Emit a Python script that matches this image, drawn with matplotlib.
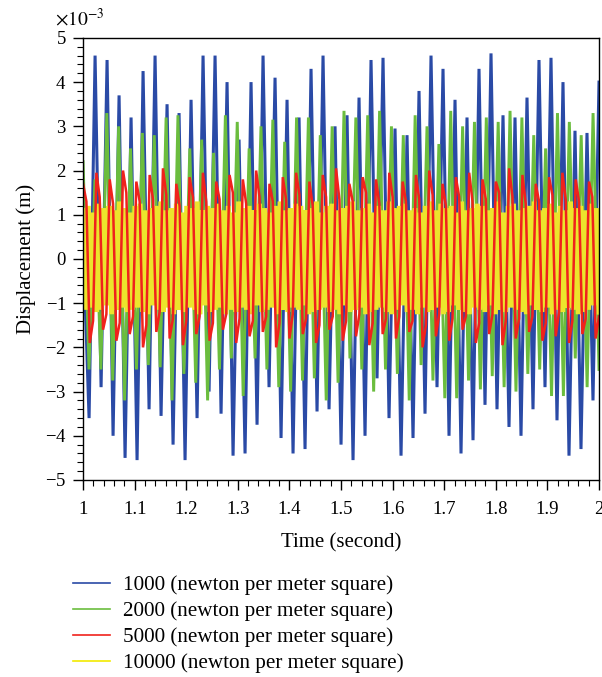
import numpy as np
import matplotlib
matplotlib.use("Agg")
import matplotlib.pyplot as plt
from matplotlib.ticker import MultipleLocator

plt.rcParams['font.family'] = 'serif'
plt.rcParams['font.serif'] = ['Liberation Serif', 'DejaVu Serif']
plt.rcParams['mathtext.fontset'] = 'stix'

# displacement values in units of 1e-3 m
blue_1000 = [0.5, -3.6, 4.6, -2.9, 4.5, -4.0, 3.7, -4.5, 3.2, -4.55, 4.25, -3.4,
             4.6, -3.55, 3.5, -4.2, 3.3, -4.55, 3.6, -3.6, 4.6, -3.0, 4.6, -3.5,
             4.0, -4.45, 2.7, -4.4, 4.0, -3.75, 4.6, -2.9, 4.1, -4.05, 3.6, -4.4,
             3.2, -4.3, 4.3, -3.45, 4.6, -3.4, 3.0, -4.2, 3.25, -4.55, 3.65, -4.0,
             4.5, -2.7, 4.55, -3.6, 2.95, -4.45, 2.8, -4.05, 3.8, -3.5, 4.6, -2.9,
             4.3, -4.0, 3.6, -4.4, 3.2, -4.1, 4.3, -3.3, 4.65, -3.4, 3.25, -3.8,
             3.2, -4.0, 3.65, -3.4, 4.5, -2.9, 4.55, -3.65, 4.0, -4.45, 2.9, -4.3,
             2.85, -3.2, 4.0]

green_2000 = [2.2, -2.5, 1.8, -2.5, 3.3, -2.75, 3.0, -3.2, 2.5, -2.5, 2.85, -2.4,
              2.8, -2.45, 3.2, -3.2, 3.25, -2.6, 2.5, -2.8, 2.7, -3.2, 2.4, -2.5,
              3.25, -2.25, 3.1, -3.1, 2.5, -2.25, 3.0, -2.5, 3.15, -2.9, 2.65, -3.0,
              3.2, -2.75, 3.2, -2.7, 2.8, -3.2, 3.0, -2.8, 3.35, -2.25, 3.2, -2.5,
              3.25, -3.0, 3.35, -2.5, 3.0, -2.6, 2.8, -3.2, 3.25, -2.4, 3.0, -2.75,
              2.6, -3.15, 3.35, -3.15, 3.0, -2.75, 3.1, -2.95, 3.2, -2.65, 3.1, -2.9,
              3.35, -3.0, 3.2, -2.6, 2.8, -2.5, 2.5, -3.1, 3.3, -3.1, 3.1, -2.25,
              2.8, -2.9, 3.3, -2.5]

red_5000 = [1.7, 1.3, -1.9, -1.4, 1.95, 1.4, -1.6, -1.25, 1.8, 1.25, -1.85, -1.45,
            2.0, 1.5, -1.7, -1.3, 1.75, 1.3, -2.0, -1.5, 1.9, 1.35, -1.65, -1.2,
            2.05, 1.45, -1.8, -1.35, 1.7, 1.2, -1.95, -1.4, 1.85, 1.4, -1.7, -1.3,
            1.95, 1.3, -1.85, -1.45, 1.75, 1.35, -1.6, -1.25, 1.9, 1.5, -1.9, -1.35,
            1.8, 1.25, -1.75, -1.4, 2.0, 1.4, -1.65, -1.3, 1.7, 1.3, -2.0, -1.45,
            1.85, 1.35, -1.8, -1.25, 1.95, 1.45, -1.7, -1.35, 1.75, 1.2, -1.9, -1.5,
            1.9, 1.4, -1.6, -1.3, 2.05, 1.35, -1.85, -1.4, 1.7, 1.3, -1.75, -1.25,
            1.85, 1.5, -1.95, -1.45, 1.8, 1.25, -1.7, -1.35, 1.95, 1.4, -1.8, -1.3,
            1.75, 1.3, -1.65, -1.4, 1.9, 1.35, -2.0, -1.5, 2.0, 1.45, -1.75, -1.25,
            1.7, 1.2, -1.85, -1.35, 1.85, 1.4, -1.6, -1.3, 1.95, 1.3, -1.9, -1.45,
            1.8, 1.35, -1.7, -1.25, 1.75, 1.5, -1.95, -1.4, 2.05, 1.4, -1.8, -1.35,
            1.9, 1.25, -1.65, -1.3, 1.7, 1.3, -1.85, -1.45, 1.85, 1.45, -1.75, -1.2,
            1.95, 1.35, -1.9, -1.4, 1.8, 1.3, -1.7, -1.35, 1.75, 1.4, -1.8, -1.3]

yellow_10000 = [1.1, -1.15, 1.2, -1.1, 1.05, -1.2, 1.25, -1.15, 1.15, -1.05, 1.2, -1.25,
                1.1, -1.15, 1.3, -1.1, 1.15, -1.2, 1.05, -1.15, 1.2, -1.1, 1.25, -1.2,
                1.1, -1.25, 1.15, -1.05, 1.2, -1.15, 1.3, -1.2, 1.1, -1.1, 1.15, -1.25,
                1.25, -1.15, 1.05, -1.2, 1.2, -1.1, 1.15, -1.15, 1.3, -1.25, 1.1, -1.05,
                1.2, -1.2, 1.15, -1.15, 1.25, -1.1, 1.1, -1.25, 1.2, -1.15, 1.05, -1.2,
                1.3, -1.1, 1.15, -1.15, 1.2, -1.25, 1.1, -1.05, 1.25, -1.2, 1.15, -1.15,
                1.05, -1.1, 1.2, -1.25, 1.3, -1.15, 1.1, -1.2, 1.15, -1.1, 1.25, -1.15,
                1.2, -1.05, 1.1, -1.25, 1.15, -1.2, 1.3, -1.15, 1.05, -1.1, 1.2, -1.2,
                1.25, -1.15, 1.1, -1.25, 1.15, -1.05, 1.2, -1.2, 1.3, -1.15, 1.1, -1.1,
                1.15, -1.25, 1.25, -1.2, 1.05, -1.15, 1.2, -1.1, 1.1, -1.2, 1.3, -1.25,
                1.15, -1.15, 1.2, -1.05, 1.25, -1.2, 1.1, -1.15, 1.15, -1.25, 1.05, -1.1,
                1.2, -1.2, 1.3, -1.15, 1.1, -1.1, 1.25, -1.25, 1.15, -1.2, 1.2, -1.05,
                1.05, -1.15, 1.3, -1.2, 1.1, -1.25, 1.15, -1.1, 1.25, -1.15, 1.2, -1.2,
                1.1, -1.05, 1.15, -1.25, 1.3, -1.15, 1.05, -1.2, 1.2, -1.1, 1.25, -1.15,
                1.1, -1.2, 1.15, -1.25, 1.2, -1.05, 1.3, -1.15, 1.1, -1.2, 1.15, -1.1,
                1.25, -1.25, 1.05, -1.15, 1.2, -1.2, 1.1, -1.1, 1.3, -1.15, 1.15, -1.25,
                1.2, -1.2, 1.1, -1.15, 1.25, -1.05, 1.15, -1.2]

labels = ["1000 (newton per meter square)", "2000 (newton per meter square)",
          "5000 (newton per meter square)", "10000 (newton per meter square)"]
colors = ["#2a4aa6", "#6bbd3e", "#f0221c", "#ece42c"]
legend_colors = ["#2a4aa6", "#6bbd3e", "#f0221c", "#f2ea00"]


def times(values):
    return np.linspace(1.0, 2.0, len(values))


fig = plt.figure(figsize=(6.02, 6.77), dpi=100)
ax = fig.add_axes([0.138, 0.291, 0.857, 0.653])

# yellow goes under the red one, the red strokes show through the band
series = [blue_1000, green_2000, yellow_10000, red_5000]
series_colors = [colors[0], colors[1], colors[3], colors[2]]
widths = [2.2, 2.1, 3.6, 1.8]
for vals, c, lw in zip(series, series_colors, widths):
    ax.plot(times(vals), np.array(vals) * 1e-3, color=c, lw=lw, solid_joinstyle='miter')

ax.set_xlim(1, 2)
ax.set_ylim(-5e-3, 5e-3)
ax.xaxis.set_major_locator(MultipleLocator(0.1))
ax.xaxis.set_minor_locator(MultipleLocator(0.02))
ax.yaxis.set_major_locator(MultipleLocator(1e-3))
ax.yaxis.set_minor_locator(MultipleLocator(0.2e-3))
ax.ticklabel_format(axis='y', style='sci', scilimits=(-3, -3), useMathText=True)
ax.yaxis.get_offset_text().set_visible(False)
ax.xaxis.set_major_formatter(plt.FuncFormatter(lambda v, p: ('%.1f' % v).rstrip('0').rstrip('.')))
ax.tick_params(which='major', direction='out', length=7, width=1, labelsize=13.5, pad=5)
ax.tick_params(axis='x', which='major', pad=8)
ax.tick_params(which='minor', direction='out', length=4, width=0.8)
for s in ax.spines.values():
    s.set_linewidth(1.0)

fig.text(0.091, 0.973, r"$\times10^{-3}$", fontsize=14, ha='left', va='center')

ax.set_xlabel("Time (second)", fontsize=15, labelpad=11)
ax.set_ylabel("Displacement (m)", fontsize=15, labelpad=6)

handles = [plt.Line2D([], [], color=c, lw=1.2) for c in legend_colors]
fig.legend(handles, labels, loc='upper left', bbox_to_anchor=(0.097, 0.172),
           frameon=False, fontsize=15.2, handlelength=1.75, handletextpad=0.6,
           labelspacing=0.3, borderpad=0.2)

fig.savefig("out.png", dpi=100)
